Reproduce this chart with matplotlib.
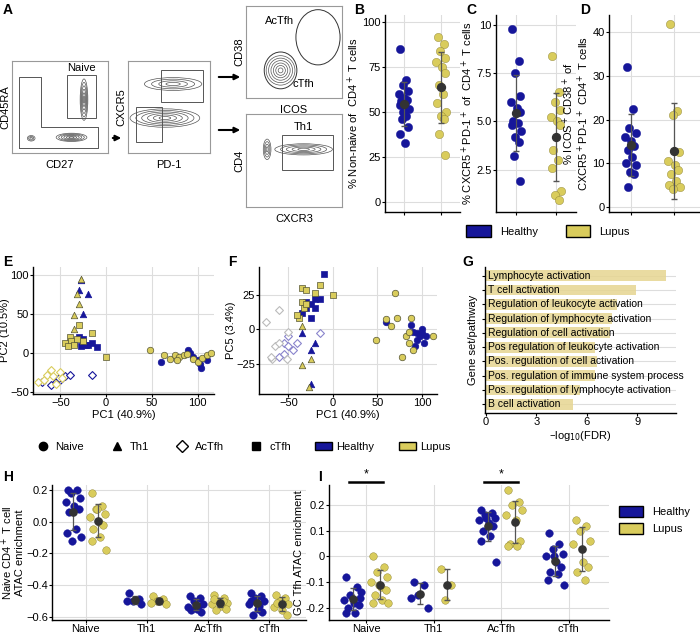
import numpy as np
import matplotlib
matplotlib.use('Agg')
import matplotlib.pyplot as plt
from matplotlib.patches import Rectangle, Ellipse
from matplotlib.lines import Line2D
from matplotlib.patches import Patch

plt.rcParams['font.family'] = ['Liberation Sans Narrow', 'Liberation Sans', 'DejaVu Sans']
plt.rcParams['font.size'] = 8

HEALTHY = '#16169a'
LUPUS = '#d9cc5c'
GRID = '#dddddd'

# ---- data B, C, D
b_healthy = [85, 68, 65, 62, 60, 58, 57, 56, 55, 54, 52, 50, 48, 46, 42, 38, 33]
b_lupus = [92, 88, 84, 80, 78, 75, 72, 65, 60, 55, 50, 48, 46, 38, 26]
c_healthy = [9.8, 8.1, 7.5, 6.3, 6.0, 5.7, 5.5, 5.0, 4.9, 4.8, 4.5, 4.2, 3.9, 3.2, 1.9]
c_lupus = [8.4, 6.5, 6.0, 5.6, 5.2, 5.0, 4.8, 3.5, 3.0, 2.6, 1.4, 1.2, 0.9]
d_healthy = [32, 22.5, 18, 17, 16, 15, 14, 13, 11.5, 10, 9.5, 8, 7.5, 4.5]
d_lupus = [42, 22, 21, 12.5, 10.5, 9.5, 8.5, 7.5, 6, 5, 4.5, 4]
jitter = [-0.12, 0.08, -0.04, 0.14, -0.16, 0.02, 0.11, -0.09, 0.05, -0.13, 0.16, -0.02, 0.09, -0.07, 0.13, -0.11, 0.04]

# ---- data E, F (PC coordinates)
e_points = {
    ('Naive', 'Healthy'): [(60, -12), (90, 3), (95, -5), (100, -10), (103, -15), (104, -20), (110, -10), (92, 0)],
    ('Naive', 'Lupus'): [(48, 3), (63, -3), (70, -8), (75, -3), (80, -5), (85, -3), (88, -2), (95, -8), (100, -12),
                         (105, -7), (110, -3), (115, 0), (78, -10)],
    ('Th1', 'Healthy'): [(-30, 80), (-20, 75), (-25, 50), (-27, 93)],
    ('Th1', 'Lupus'): [(-32, 75), (-30, 63), (-35, 48), (-27, 95), (-35, 30)],
    ('cTfh', 'Healthy'): [(-35, 12), (-30, 20), (-25, 18), (-20, 10), (-15, 12), (-10, 7), (-28, 8), (-22, 10)],
    ('cTfh', 'Lupus'): [(-45, 12), (-40, 20), (-38, 15), (-35, 10), (-30, 35), (-25, 15), (-15, 25), (0, -5),
                        (-42, 8), (-32, 18)],
    ('AcTfh', 'Healthy'): [(-70, -38), (-55, -38), (-50, -35), (-45, -30), (-40, -28), (-15, -28), (-60, -42), (-52, -33)],
    ('AcTfh', 'Lupus'): [(-75, -38), (-68, -35), (-65, -28), (-60, -22), (-58, -30), (-50, -25), (-48, -32), (-55, -40)],
}
f_points = {
    ('Naive', 'Healthy'): [(60, 5), (88, 3), (90, -2), (95, -8), (98, -5), (100, -3), (102, -10), (105, -5), (92, -12),
                           (100, 0), (95, -3)],
    ('Naive', 'Lupus'): [(48, -8), (60, 7), (65, 2), (70, 26), (72, 8), (78, -20), (82, -5), (85, -10), (88, 8),
                         (90, -15), (112, -5), (85, -2)],
    ('Th1', 'Healthy'): [(-25, -15), (-20, -10), (-25, -40), (-35, -3)],
    ('Th1', 'Lupus'): [(-25, -22), (-35, -26), (-27, -42), (-35, 2)],
    ('cTfh', 'Healthy'): [(-10, 40), (-15, 22), (-20, 22), (-25, 18), (-30, 20), (-35, 12), (-25, 8), (-30, 15), (-20, 15)],
    ('cTfh', 'Lupus'): [(-35, 30), (-30, 28), (-20, 26), (-15, 32), (0, 25), (-35, 20), (-38, 8), (-33, 15), (-30, 18),
                        (-40, 10)],
    ('AcTfh', 'Healthy'): [(-55, -10), (-50, -5), (-45, -15), (-40, -10), (-15, -3), (-60, -20), (-55, -18), (-50, -12)],
    ('AcTfh', 'Lupus'): [(-75, 5), (-60, 14), (-50, -2), (-65, -12), (-68, -22), (-70, -20), (-60, -10), (-52, -22)],
}
markers = {'Naive': 'o', 'Th1': '^', 'AcTfh': 'D', 'cTfh': 's'}

# ---- data G
pathways = ['Lymphocyte activation', 'T cell activation', 'Regulation of leukocyte activation',
            'Regulation of lymphocyte activation', 'Regulation of cell activation',
            'Pos regulation of leukocyte activation', 'Pos. regulation of cell activation',
            'Pos. regulation of immune system process', 'Pos. regulation of lymphocyte activation',
            'B cell activation']
fdr = [10.7, 8.9, 7.8, 7.5, 7.4, 6.5, 6.6, 6.5, 5.6, 5.2]

# ---- data H, I
cells = ['Naive', 'Th1', 'AcTfh', 'cTfh']
h_healthy = [[0.2, 0.2, 0.18, 0.15, 0.12, 0.1, 0.08, 0.06, -0.05, -0.07, -0.1, -0.12],
             [-0.45, -0.49, -0.5, -0.52, -0.5],
             [-0.47, -0.48, -0.5, -0.52, -0.54, -0.55, -0.57, -0.56, -0.53],
             [-0.45, -0.47, -0.48, -0.5, -0.52, -0.55, -0.57, -0.59, -0.53, -0.5]]
h_lupus = [[0.18, 0.1, 0.08, 0.05, 0.03, 0.0, -0.02, -0.05, -0.1, -0.12, -0.18, 0.08],
           [-0.47, -0.49, -0.5, -0.52, -0.51],
           [-0.46, -0.48, -0.5, -0.51, -0.52, -0.53, -0.55, -0.56, -0.5, -0.49],
           [-0.46, -0.48, -0.5, -0.52, -0.54, -0.56, -0.59, -0.51]]
i_healthy = [[-0.08, -0.12, -0.15, -0.16, -0.17, -0.18, -0.19, -0.2, -0.22, -0.22, -0.14],
             [-0.1, -0.11, -0.15, -0.2, -0.16],
             [0.18, 0.17, 0.16, 0.15, 0.14, 0.13, 0.12, 0.1, 0.08, 0.06, -0.02, 0.15],
             [0.09, 0.05, 0.03, 0.01, 0.0, -0.02, -0.04, -0.06, -0.07, -0.09, -0.11, 0.0]]
i_lupus = [[0.0, -0.04, -0.06, -0.08, -0.1, -0.12, -0.13, -0.15, -0.17, -0.18, -0.18, -0.11],
           [-0.05, -0.11, -0.17],
           [0.26, 0.21, 0.2, 0.18, 0.16, 0.14, 0.06, 0.05, 0.04, 0.04],
           [0.14, 0.12, 0.1, 0.06, 0.05, -0.02, -0.04, -0.06, -0.09]]

fig = plt.figure(figsize=(7, 6.33), dpi=100)


def ax_px(x0, y0, x1, y1):
    return fig.add_axes([x0 / 700, 1 - y1 / 633, (x1 - x0) / 700, (y1 - y0) / 633])


def letter(x, y, s):
    fig.text(x / 700, 1 - y / 633, s, fontsize=10, fontweight='bold', va='top', ha='left',
             family=['Liberation Sans', 'DejaVu Sans'])


def style(ax):
    ax.set_facecolor('white')
    for s in ['top', 'right']:
        ax.spines[s].set_visible(False)
    ax.spines['left'].set_linewidth(1)
    ax.spines['bottom'].set_linewidth(1)
    ax.grid(True, color=GRID, linewidth=0.8)
    ax.set_axisbelow(True)
    ax.tick_params(length=2, labelsize=8, pad=1)


def strip(ax, groups, positions, colors, size=30):
    for vals, x, col in zip(groups, positions, colors):
        v = np.array(vals)
        xs = x + np.array(jitter[:len(v)]) * 0.8
        ax.scatter(xs, v, s=size, color=col, edgecolor=col if col == HEALTHY else '#8a8030',
                   linewidth=0.3, zorder=3)
        m, sd = v.mean(), v.std(ddof=1)
        ax.errorbar(x, m, yerr=sd, color='#555555', capsize=2, lw=0.9, zorder=4)
        ax.scatter([x], [m], s=size * 0.9, color='#333333', zorder=5)


# ---------- A: flow gates (schematic)
def flow_box(x0, y0, x1, y1, xl, yl):
    ax = ax_px(x0, y0, x1, y1)
    ax.set_xlim(0, 1)
    ax.set_ylim(0, 1)
    ax.set_xticks([])
    ax.set_yticks([])
    for s in ax.spines.values():
        s.set_color('#999999')
        s.set_linewidth(0.8)
    ax.set_xlabel(xl, fontsize=8, labelpad=5)
    ax.set_ylabel(yl, fontsize=8, labelpad=1)
    return ax


def blob(ax, cx, cy, w, h, n=6, angle=0):
    for k in range(n):
        f = 1 - k / n
        ax.add_patch(Ellipse((cx, cy), w * f, h * f, angle=angle, fill=False, ec='#555555', lw=0.5))


a1 = flow_box(12, 61, 108, 153, 'CD27', 'CD45RA')
blob(a1, 0.62, 0.17, 0.32, 0.09)
blob(a1, 0.75, 0.58, 0.08, 0.45)
blob(a1, 0.2, 0.16, 0.08, 0.06, n=3)
a1.plot([0.07, 0.07, 0.3, 0.3, 0.9, 0.9, 0.07], [0.05, 0.83, 0.83, 0.28, 0.28, 0.05, 0.05], color='#555555', lw=0.7)
a1.add_patch(Rectangle((0.57, 0.38), 0.3, 0.47, fill=False, ec='#555555', lw=0.7))
a1.text(0.72, 0.89, 'Naive', ha='center', fontsize=8)

a2 = flow_box(128, 61, 210, 153, 'PD-1', 'CXCR5')
blob(a2, 0.45, 0.38, 0.85, 0.2)
blob(a2, 0.55, 0.75, 0.7, 0.14, n=4)
a2.add_patch(Rectangle((0.1, 0.12), 0.32, 0.38, fill=False, ec='#555555', lw=0.7))
a2.add_patch(Rectangle((0.4, 0.55), 0.52, 0.35, fill=False, ec='#555555', lw=0.7))

a3 = flow_box(246, 6, 342, 98, 'ICOS', 'CD38')
blob(a3, 0.36, 0.3, 0.3, 0.32)
a3.add_patch(Ellipse((0.36, 0.3), 0.34, 0.4, fill=False, ec='#333333', lw=0.7))
a3.add_patch(Ellipse((0.75, 0.66), 0.46, 0.6, fill=False, ec='#333333', lw=0.7))
a3.text(0.35, 0.8, 'AcTfh', ha='center', fontsize=8)
a3.text(0.6, 0.12, 'cTfh', ha='center', fontsize=8)

a4 = flow_box(246, 114, 342, 207, 'CXCR3', 'CD4')
blob(a4, 0.22, 0.62, 0.08, 0.22, n=4)
blob(a4, 0.6, 0.62, 0.6, 0.12, n=5)
a4.add_patch(Rectangle((0.38, 0.4), 0.53, 0.37, fill=False, ec='#555555', lw=0.7))
a4.text(0.6, 0.83, 'Th1', ha='center', fontsize=8)

for (x0, y0, x1, y1) in [(110, 138, 124, 138), (216, 77, 243, 77), (216, 130, 243, 130)]:
    fig.add_artist(plt.Annotation('', xy=(x1 / 700, 1 - y1 / 633), xytext=(x0 / 700, 1 - y0 / 633),
                                  xycoords='figure fraction',
                                  arrowprops=dict(arrowstyle='-|>', color='black', lw=1.5)))
letter(3, 3, 'A')

# ---------- B, C, D
axB = ax_px(385, 15, 460, 212)
style(axB)
strip(axB, [b_healthy, b_lupus], [1, 2], [HEALTHY, LUPUS], size=36)
axB.set_ylim(-5.5, 104)
axB.set_xlim(0.5, 2.5)
axB.set_yticks([0, 25, 50, 75, 100])
axB.set_xticks([1, 2])
axB.set_xticklabels([])
axB.set_ylabel('% Non-naive of  CD4$^+$ T cells', fontsize=8, labelpad=1)
letter(354, 3, 'B')

axC = ax_px(496, 15, 576, 212)
style(axC)
strip(axC, [c_healthy, c_lupus], [1, 2], [HEALTHY, LUPUS], size=36)
axC.set_ylim(0.3, 10.5)
axC.set_xlim(0.5, 2.5)
axC.set_yticks([2.5, 5.0, 7.5, 10])
axC.set_yticklabels(['2.5', '5.0', '7.5', '10'])
axC.set_xticks([1, 2])
axC.set_xticklabels([])
axC.set_ylabel('% CXCR5$^+$PD-1$^+$ of  CD4$^+$ T cells', fontsize=8, labelpad=1)
letter(466, 3, 'C')

axD = ax_px(609, 15, 700, 212)
style(axD)
strip(axD, [d_healthy, d_lupus], [1, 2], [HEALTHY, LUPUS], size=36)
axD.set_ylim(-1.2, 44)
axD.set_xlim(0.5, 2.6)
axD.set_yticks([0, 10, 20, 30, 40])
axD.set_xticks([1, 2])
axD.set_xticklabels([])
axD.set_ylabel('% ICOS$^+$CD38$^+$ of\nCXCR5$^+$PD-1$^+$ CD4$^+$ T cells', fontsize=8, linespacing=1.0,
               labelpad=1)
letter(580, 3, 'D')

fig.legend(handles=[Patch(fc=HEALTHY, ec='black', label='Healthy'), Patch(fc=LUPUS, ec='black', label='Lupus')],
           loc='center left', bbox_to_anchor=(462 / 700, 1 - 231 / 633), ncol=2, frameon=False,
           fontsize=8, handlelength=2.2, handleheight=1.2, columnspacing=2.5, borderaxespad=0)


# ---------- E, F
def pca(ax, pts, acolors):
    for (cell, grp), p in pts.items():
        p = np.array(p)
        col = HEALTHY if grp == 'Healthy' else LUPUS
        if cell == 'AcTfh':
            ax.scatter(p[:, 0], p[:, 1], marker='D', s=16, facecolor='white', edgecolor=acolors[grp],
                       linewidth=0.8, zorder=3)
        else:
            ax.scatter(p[:, 0], p[:, 1], marker=markers[cell], s=22, color=col,
                       edgecolor=col if grp == 'Healthy' else '#555533', linewidth=0.5, zorder=3)


axE = ax_px(33, 267, 214, 394)
style(axE)
pca(axE, e_points, {'Healthy': HEALTHY, 'Lupus': LUPUS})
axE.set_xlim(-80, 118)
axE.set_ylim(-53, 110)
axE.set_xticks([-50, 0, 50, 100])
axE.set_yticks([-50, 0, 50, 100])
axE.set_xlabel('PC1 (40.9%)', fontsize=8, labelpad=1)
axE.set_ylabel('PC2 (10.5%)', fontsize=8, labelpad=0)
letter(3, 255, 'E')

axF = ax_px(259, 267, 437, 394)
style(axF)
pca(axF, f_points, {'Healthy': '#8a84cc', 'Lupus': '#bbbbbb'})
axF.set_xlim(-83, 117)
axF.set_ylim(-47, 45)
axF.set_xticks([-50, 0, 50, 100])
axF.set_yticks([-25, 0, 25])
axF.set_xlabel('PC1 (40.9%)', fontsize=8, labelpad=1)
axF.set_ylabel('PC5 (3.4%)', fontsize=8, labelpad=0)
letter(228, 255, 'F')

# ---------- G
axG = ax_px(485, 267, 676, 413)
style(axG)
axG.grid(False)
axG.grid(True, axis='y', color=GRID, linewidth=0.8)
yp = np.arange(len(pathways))[::-1]
axG.barh(yp, fdr, height=0.75, color='#e6d591', alpha=0.85)
for y, lab in zip(yp, pathways):
    axG.text(0.15, y, lab, va='center', ha='left', fontsize=7.5)
axG.set_xlim(-0.05, 11.3)
axG.set_ylim(-0.6, 9.6)
axG.set_yticks(yp)
axG.set_yticklabels([])
axG.set_xticks([0, 3, 6, 9])
axG.set_xlabel('\u2013log$_{10}$(FDR)', fontsize=8, labelpad=1)
axG.set_ylabel('Gene set/pathway', fontsize=8, labelpad=2)
letter(462, 255, 'G')

# shape/group legend
hs = [Line2D([], [], marker='o', ls='', color='black', markersize=6, label='Naive'),
      Line2D([], [], marker='^', ls='', color='black', markersize=6, label='Th1'),
      Line2D([], [], marker='D', ls='', mfc='white', mec='black', markersize=6, label='AcTfh'),
      Line2D([], [], marker='s', ls='', color='black', markersize=6, label='cTfh'),
      Patch(fc=HEALTHY, ec='black', label='Healthy'), Patch(fc=LUPUS, ec='black', label='Lupus')]
fig.legend(handles=hs, loc='center left', bbox_to_anchor=(30 / 700, 1 - 447 / 633), ncol=6, frameon=False,
           fontsize=8, handlelength=1.5, columnspacing=2.2, handletextpad=0.4, borderaxespad=0)


# ---------- H, I
def cat_strip(ax, hg, lg):
    pos = np.arange(len(cells))
    strip(ax, hg, pos - 0.2, [HEALTHY] * 4, size=30)
    strip(ax, lg, pos + 0.2, [LUPUS] * 4, size=30)
    ax.set_xticks(pos)
    ax.set_xticklabels(cells)
    ax.set_xlim(-0.55, 3.6)


axH = ax_px(52, 485, 306, 620)
style(axH)
cat_strip(axH, h_healthy, h_lupus)
axH.set_ylim(-0.62, 0.23)
axH.set_yticks([-0.6, -0.4, -0.2, 0.0, 0.2])
axH.set_ylabel('Naive CD4$^+$ T cell\nATAC enrichment', fontsize=8, linespacing=1.0, labelpad=1)
letter(3, 470, 'H')

axI = ax_px(329, 485, 609, 620)
style(axI)
cat_strip(axI, i_healthy, i_lupus)
axI.set_ylim(-0.247, 0.278)
axI.set_yticks([-0.2, -0.1, 0, 0.1, 0.2])
axI.set_yticklabels(['-0.2', '-0.1', '0', '0.1', '0.2'])
axI.set_ylabel('GC Tfh ATAC enrichment', fontsize=8, labelpad=1)
for c in [0, 2]:
    axI.plot([c - 0.25, c + 0.25], [0.29, 0.29], color='black', lw=1.8, clip_on=False)
    axI.text(c, 0.295, '*', ha='center', va='bottom', fontsize=9)
axI.legend(handles=[Patch(fc=HEALTHY, ec='black', label='Healthy'), Patch(fc=LUPUS, ec='black', label='Lupus')],
           loc='upper left', bbox_to_anchor=(1.02, 0.88), frameon=False, fontsize=8,
           handlelength=2.2, handleheight=1.2, borderaxespad=0)
letter(318, 470, 'I')

fig.savefig('out.png', dpi=100)
